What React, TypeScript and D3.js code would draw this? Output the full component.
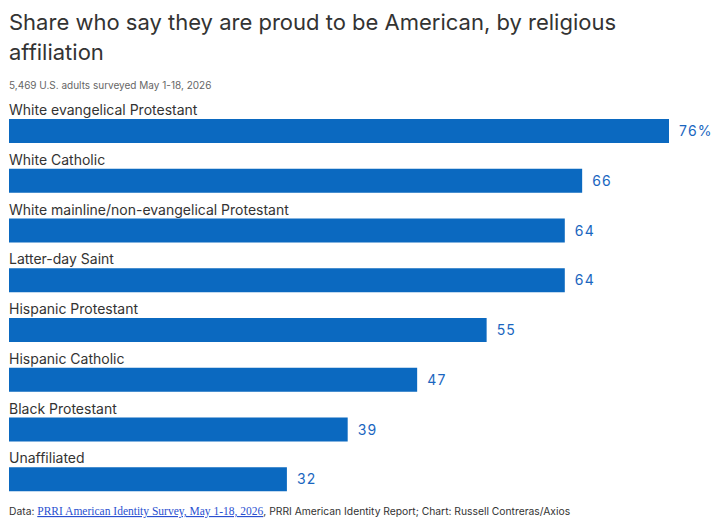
import React, { useEffect, useRef } from 'react';
import * as d3 from 'd3';

const groups = [
  'White evangelical Protestant',
  'White Catholic',
  'White mainline/non-evangelical Protestant',
  'Latter-day Saint',
  'Hispanic Protestant',
  'Hispanic Catholic',
  'Black Protestant',
  'Unaffiliated',
];
const shares = [76, 66, 64, 64, 55, 47, 39, 32];

const W = 721, H = 524;
const FONT = 'Inter, "Noto Sans", sans-serif';

const App = () => {
  const ref = useRef<SVGSVGElement>(null);

  useEffect(() => {
    const svg = d3.select(ref.current);
    svg.selectAll('*').remove();

    const left = 9;
    const x = d3.scaleLinear().domain([0, 76]).range([0, 660]);
    const y = d3.scaleBand().domain(groups).range([98, 496]).paddingInner(0).paddingOuter(0);

    // title
    const title = svg.append('text')
      .attr('x', left).attr('y', 30)
      .style('font-family', FONT).style('font-size', '22px').attr('fill', '#333');
    title.append('tspan').attr('x', left).attr('dy', 0).text('Share who say they are proud to be American, by religious');
    title.append('tspan').attr('x', left).attr('dy', 30).text('affiliation');

    svg.append('text')
      .attr('x', left).attr('y', 89)
      .style('font-family', FONT).style('font-size', '10px').attr('fill', '#666')
      .text('5,469 U.S. adults surveyed May 1-18, 2026');

    const rows = svg.selectAll('.row')
      .data(groups)
      .enter().append('g')
      .attr('class', 'row')
      .attr('transform', d => `translate(0,${y(d)})`);

    rows.append('text')
      .attr('x', left).attr('y', 17)
      .style('font-family', FONT).style('font-size', '14px').attr('fill', '#333')
      .text(d => d);

    rows.append('rect')
      .attr('x', left).attr('y', 21)
      .attr('width', (d, i) => x(shares[i]))
      .attr('height', 24)
      .attr('fill', '#0b69c0');

    rows.append('text')
      .attr('x', (d, i) => left + x(shares[i]) + 10)
      .attr('y', 38)
      .style('font-family', FONT).style('font-size', '14px').style('letter-spacing', '1.2px')
      .attr('fill', '#1a66c0')
      .text((d, i) => i === 0 ? `${shares[i]}%` : `${shares[i]}`);

    const foot = svg.append('text')
      .attr('x', left).attr('y', 515)
      .style('font-family', FONT).style('font-size', '10.3px').attr('fill', '#333');
    foot.append('tspan').text('Data: ');
    foot.append('tspan')
      .style('font-family', '"Liberation Serif", serif').style('font-size', '11.5px')
      .style('text-decoration', 'underline').attr('fill', '#2a4fd0')
      .text('PRRI American Identity Survey, May 1-18, 2026');
    foot.append('tspan').text(', PRRI American Identity Report; Chart: Russell Contreras/Axios');
  }, []);

  return (
    <svg ref={ref} width={W} height={H}
      style={{ position: 'absolute', left: 0, top: 0, background: '#fff' }} />
  );
};

export default App;
